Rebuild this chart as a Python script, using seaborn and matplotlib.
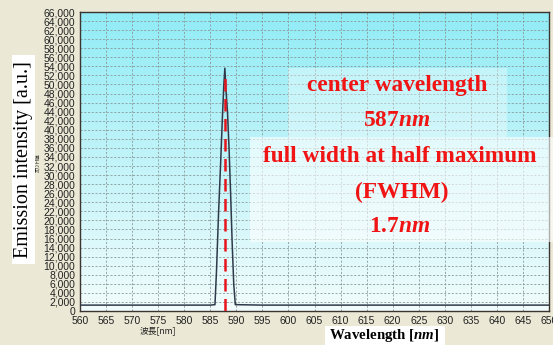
import numpy as np
import pandas as pd
import matplotlib
matplotlib.use("Agg")
import matplotlib.pyplot as plt
import seaborn as sns
from matplotlib.patches import Rectangle
from matplotlib.ticker import FuncFormatter

# ---------------- data ----------------
wavelength = [560.0, 570.0, 580.0, 585.0, 585.9, 586.2, 586.6, 587.0, 587.3, 587.6, 587.8,
              588.0, 588.3, 588.6, 588.9, 589.2, 589.5, 589.8, 595.0, 610.0, 630.0, 650.0]
intensity = [1300, 1300, 1300, 1300, 1400, 9000, 22000, 33000, 42000, 50000, 53600,
             49000, 44000, 36000, 26000, 15000, 6000, 1400, 1300, 1300, 1300, 1300]
center_line_x = 587.8
center_line_top = 52700
x_ticks = list(range(560, 651, 5))
y_ticks = list(range(0, 66001, 2000))
annot_lines = ["center wavelength", "587$nm$", "full width at half maximum", "(FWHM)", "1.7$nm$"]

df = pd.DataFrame({"wavelength": wavelength, "intensity": intensity})

# ---------------- style ----------------
sns.set_theme(style="white")
plt.rcParams["font.family"] = ["Liberation Sans", "DejaVu Sans"]
plt.rcParams["mathtext.fontset"] = "custom"
plt.rcParams["mathtext.rm"] = "Liberation Serif:bold"
plt.rcParams["mathtext.it"] = "Liberation Serif:italic:bold"
plt.rcParams["mathtext.bf"] = "Liberation Serif:bold"

W, H = 553, 345
fig = plt.figure(figsize=(W / 100, H / 100), dpi=100)
fig.patch.set_facecolor("#ebe8d6")

def fx(px):
    return px / W

def fy(py):
    return 1 - py / H

ax_l, ax_r, ax_t, ax_b = 80, 549, 12, 311
ax = fig.add_axes([fx(ax_l), fy(ax_b), fx(ax_r - ax_l), (ax_b - ax_t) / H])

# gradient background
top = np.array([145, 236, 246]) / 255
bot = np.array([242, 252, 252]) / 255
t = np.linspace(0, 1, 256)[:, None]
grad = (top * (1 - t) + bot * t)[:, None, :].repeat(2, axis=1)
ax.imshow(grad, extent=[0, 1, 0, 1], transform=ax.transAxes, aspect="auto", zorder=0)

ax.set_xlim(560, 650)
ax.set_ylim(0, 66000)
ax.set_xticks(x_ticks)
ax.set_yticks(y_ticks)
ax.yaxis.set_major_formatter(FuncFormatter(lambda v, p: f"{int(v):,}"))
ax.tick_params(axis="both", labelsize=7.5, colors="#222222", length=2, width=0.6, pad=1.5)
ax.grid(True, color="#8a9a9a", linestyle=(0, (2.5, 2)), linewidth=0.6, zorder=1)
for s in ax.spines.values():
    s.set_color("#3a3530")
    s.set_linewidth(1.0)
    s.set_visible(True)

sns.lineplot(data=df, x="wavelength", y="intensity", ax=ax, color="#2e3a4a", linewidth=1.1, zorder=3)
ax.plot([center_line_x, center_line_x], [0, center_line_top], color="#e8141c",
        linestyle=(0, (5, 3)), linewidth=1.8, zorder=4)
ax.set_xlabel("")
ax.set_ylabel("")

# small Japanese labels
fig.text(fx(158), fy(331), "波長[nm]", fontsize=6.3, ha="center", va="center",
         family=["Noto Sans CJK JP", "DejaVu Sans"], color="#222222")
fig.text(fx(37.5), fy(163), "ｶｳﾝﾄ値", fontsize=4.5, rotation=90, ha="center", va="center",
         family=["Noto Sans CJK JP", "DejaVu Sans"], color="#222222")

# overlay boxes
fig.patches.append(Rectangle((fx(288), fy(137)), fx(507 - 288), (137 - 68) / H,
                             transform=fig.transFigure, facecolor="white", alpha=0.35,
                             edgecolor="none", zorder=5))
fig.patches.append(Rectangle((fx(250), fy(242)), fx(553 - 250), (242 - 137) / H,
                             transform=fig.transFigure, facecolor="white", alpha=0.6,
                             edgecolor="none", zorder=5))
fig.patches.append(Rectangle((fx(12), fy(264)), fx(23), (264 - 55) / H,
                             transform=fig.transFigure, facecolor="white",
                             edgecolor="none", zorder=5))
fig.patches.append(Rectangle((fx(325), fy(345)), fx(120), 19 / H,
                             transform=fig.transFigure, facecolor="white",
                             edgecolor="none", zorder=5))

# axis labels
fig.text(fx(24), fy(160), "Emission intensity [a.u.]", rotation=90, ha="center", va="center",
         fontsize=14.5, family="Liberation Serif", color="black", zorder=6)
fig.text(fx(384), fy(336), "Wavelength [$nm$]", ha="center", va="center",
         fontsize=10.7, family="Liberation Serif", fontweight="bold", color="black", zorder=6)

# annotation text
ys = [85, 120, 157, 192, 227]
xs = [397, 397, 400, 402, 400]
for s, xx, yy in zip(annot_lines, xs, ys):
    fig.text(fx(xx), fy(yy), s, ha="center", va="center", fontsize=16.8,
             family="Liberation Serif", fontweight="bold", color="#f01414", zorder=6)

fig.savefig("out.png", dpi=100, facecolor=fig.get_facecolor())
